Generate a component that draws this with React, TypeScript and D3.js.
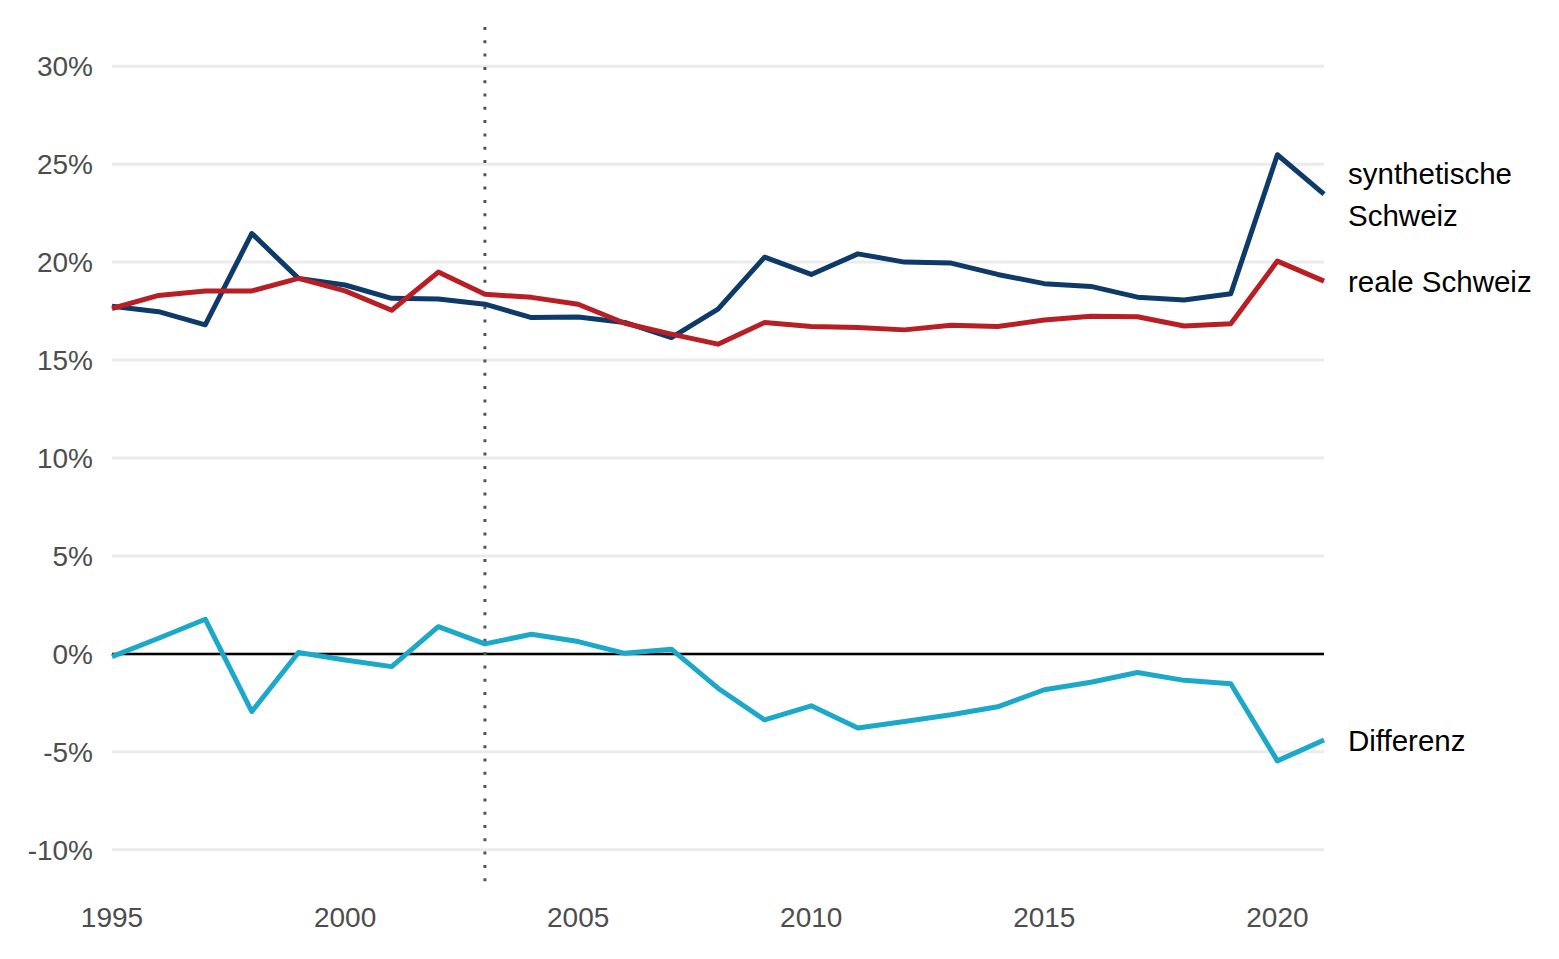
import React from "react";
import * as d3 from "d3";

const years = [
  1995, 1996, 1997, 1998, 1999, 2000, 2001, 2002, 2003, 2004, 2005, 2006, 2007,
  2008, 2009, 2010, 2011, 2012, 2013, 2014, 2015, 2016, 2017, 2018, 2019, 2020, 2021,
];
const synthetic = [
  17.75, 17.47, 16.8, 21.46, 19.17, 18.83, 18.15, 18.12, 17.85, 17.17, 17.2, 16.92,
  16.15, 17.6, 20.25, 19.37, 20.42, 20.0, 19.95, 19.37, 18.9, 18.76, 18.21, 18.06,
  18.38, 25.48, 23.47,
];
const real = [
  17.63, 18.3, 18.53, 18.53, 19.17, 18.53, 17.54, 19.49, 18.36, 18.2, 17.85, 16.88,
  16.32, 15.81, 16.92, 16.71, 16.66, 16.54, 16.78, 16.71, 17.04, 17.23, 17.21, 16.74,
  16.85, 20.05, 19.03,
];
const diff = [
  -0.14, 0.8, 1.77, -2.94, 0.07, -0.31, -0.65, 1.39, 0.51, 1.0, 0.63, 0.03, 0.24,
  -1.75, -3.37, -2.65, -3.78, -3.45, -3.11, -2.7, -1.83, -1.45, -0.95, -1.35, -1.52,
  -5.46, -4.39,
];
const yTicks = [-10, -5, 0, 5, 10, 15, 20, 25, 30];
const xTicks = [1995, 2000, 2005, 2010, 2015, 2020];
const treatmentYear = 2003;

const series = [
  { name: ["synthetische", "Schweiz"], values: synthetic, color: "#0d3a69" },
  { name: ["reale Schweiz"], values: real, color: "#b71f25" },
  { name: ["Differenz"], values: diff, color: "#1ba8c9" },
];

const W = 1559;
const H = 959;
const font = "'Liberation Sans', Arial, sans-serif";

export default function App() {
  const x = d3.scaleLinear().domain([1995, 2021]).range([112, 1324]);
  const y = d3.scaleLinear().domain([-12, 32]).range([889, 27]);

  const line = d3
    .line<number>()
    .x((_, i) => x(years[i]))
    .y((d) => y(d));

  return (
    <svg
      width={W}
      height={H}
      style={{ position: "absolute", left: 0, top: 0, background: "#fff" }}
    >
      {/* grid */}
      {yTicks.map((t) => (
        <line
          key={"g" + t}
          x1={x(1995)}
          x2={x(2021)}
          y1={y(t)}
          y2={y(t)}
          stroke="#ebebeb"
          strokeWidth={3}
        />
      ))}
      <line
        x1={x(1995)}
        x2={x(2021)}
        y1={y(0)}
        y2={y(0)}
        stroke="#000"
        strokeWidth={2.5}
      />
      <line
        x1={x(treatmentYear)}
        x2={x(treatmentYear)}
        y1={y(32)}
        y2={y(-12)}
        stroke="#555"
        strokeWidth={3}
        strokeDasharray="3 10.3"
      />

      {/* y axis labels */}
      {yTicks.map((t) => (
        <text
          key={"yl" + t}
          x={93}
          y={y(t)}
          dy="0.36em"
          textAnchor="end"
          fontFamily={font}
          fontSize={28}
          fill="#4d4d4d"
        >
          {t}%
        </text>
      ))}
      {/* x axis labels */}
      {xTicks.map((t) => (
        <text
          key={"xl" + t}
          x={x(t)}
          y={927}
          textAnchor="middle"
          fontFamily={font}
          fontSize={28}
          fill="#4d4d4d"
        >
          {t}
        </text>
      ))}

      {/* lines */}
      {series.map((s) => (
        <path
          key={s.name.join(" ")}
          d={line(s.values) || ""}
          fill="none"
          stroke={s.color}
          strokeWidth={5}
          strokeLinejoin="round"
        />
      ))}

      {/* direct labels */}
      {series.map((s) => {
        const last = y(s.values[s.values.length - 1]);
        const lh = 42;
        const top = last - ((s.name.length - 1) * lh) / 2;
        return (
          <text
            key={"lab" + s.name.join(" ")}
            fontFamily={font}
            fontSize={29.5}
            fill="#000"
          >
            {s.name.map((n, i) => (
              <tspan key={n} x={x(2021) + 24} y={top + i * lh} dy="0.36em">
                {n}
              </tspan>
            ))}
          </text>
        );
      })}
    </svg>
  );
}
